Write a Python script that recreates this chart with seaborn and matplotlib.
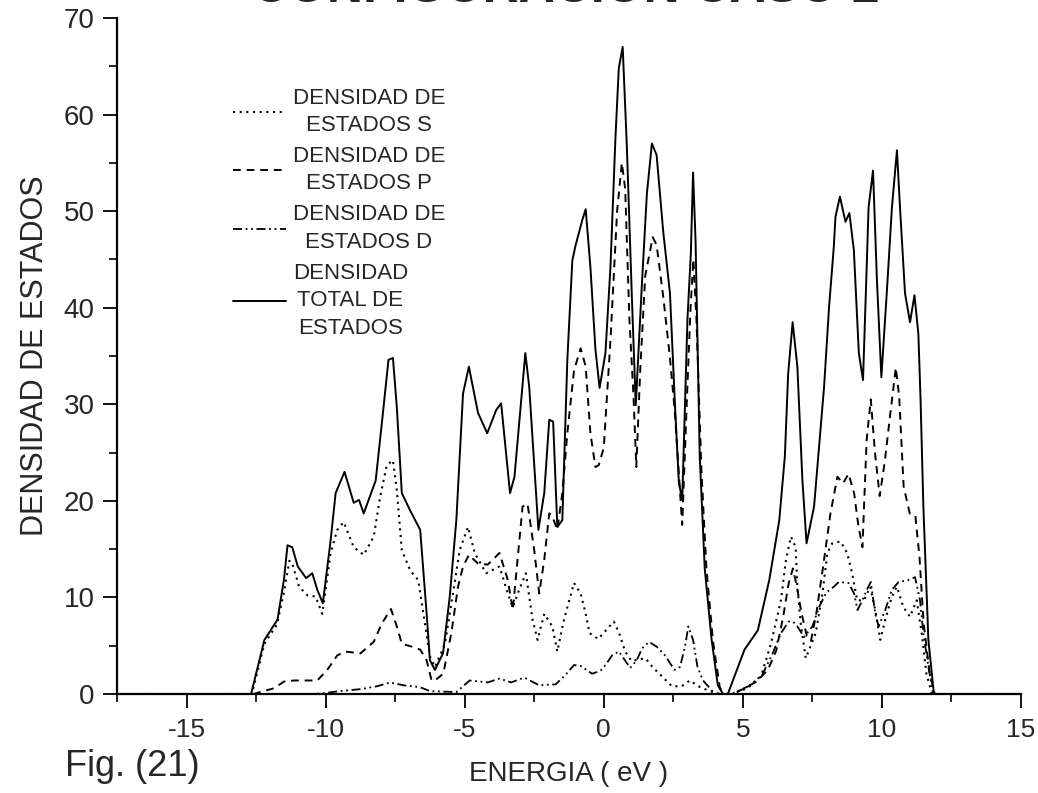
import matplotlib
matplotlib.use("Agg")
import matplotlib.pyplot as plt
import seaborn as sns
import pandas as pd
from matplotlib.ticker import MultipleLocator

# Energy grids (eV) and densities of states for each channel
energy_s = [-17.5, -12.65, -12.2, -11.75, -11.5, -11.3, -11.2, -10.95, -10.65, -10.36, -10.12,
            -9.82, -9.58, -9.35, -8.99, -8.63, -8.27, -8.04, -7.8, -7.58, -7.44, -7.26, -6.96,
            -6.67, -6.43, -6.25, -6.07, -5.71, -5.42, -5.18, -4.88, -4.64, -4.23, -3.75, -3.45,
            -3.27, -3.04, -2.8, -2.56, -2.38, -2.14, -1.85, -1.67, -1.43, -1.07, -0.83, -0.65,
            -0.51, -0.2, 0.08, 0.36, 0.54, 0.77, 1.0, 1.3, 1.5, 1.75, 2.1, 2.45, 2.8, 3.1, 3.4,
            3.8, 4.2, 4.6, 5.0, 5.3, 5.65, 6.01, 6.37, 6.55, 6.73, 6.9, 6.96, 7.08, 7.26, 7.62,
            7.86, 8.04, 8.21, 8.51, 8.75, 8.93, 9.11, 9.35, 9.58, 9.76, 9.94, 10.12, 10.36,
            10.54, 10.77, 11.01, 11.25, 11.43, 11.6, 11.8, 15.0]
dos_s = [0, 0, 5.2, 7.2, 10.5, 13.8, 13.5, 11.1, 10.2, 10.1, 8.3,
         14.6, 17.0, 17.8, 15.2, 14.4, 16.3, 20.4, 23.7, 24.2, 21.1, 14.9, 12.8,
         11.8, 7.3, 3.9, 2.8, 5.2, 10.4, 14.9, 17.3, 14.6, 12.5, 13.2, 10.4,
         9.0, 10.8, 12.5, 7.7, 5.6, 8.3, 7.0, 4.4, 7.7, 11.5, 10.4, 8.3,
         6.3, 5.7, 6.6, 7.5, 6.4, 4.4, 3.4, 3.6, 3.7, 2.8, 1.8, 0.8, 0.8, 1.4, 0.8,
         0.3, 0, 0, 0.4, 0.9, 1.8, 5.2, 9.7, 13.9, 16.3, 15.2, 11.1, 7.3, 3.7, 6.3,
         10.4, 14.6, 15.6, 15.8, 14.6, 12.5, 9.7, 9.7, 11.1, 8.7, 5.6, 7.7, 10.1,
         11.1, 9.0, 8.0, 9.7, 6.3, 2.1, 0, 0]

energy_p = [-17.5, -12.6, -11.85, -11.49, -11.13, -10.3, -9.94, -9.58, -9.29, -8.75, -8.27,
            -7.98, -7.65, -7.44, -7.26, -6.9, -6.6, -6.37, -6.19, -6.07, -5.77, -5.48, -5.24,
            -5.06, -4.85, -4.52, -4.17, -3.75, -3.45, -3.27, -3.1, -2.92, -2.74, -2.5, -2.32,
            -2.14, -1.96, -1.85, -1.67, -1.49, -1.31, -1.07, -0.83, -0.65, -0.48, -0.3, -0.18,
            0.0, 0.24, 0.48, 0.65, 0.77, 0.92, 1.07, 1.17, 1.31, 1.49, 1.76, 1.9, 2.14, 2.38,
            2.56, 2.74, 2.82, 2.98, 3.12, 3.22, 3.33, 3.51, 3.69, 3.93, 4.17, 4.3, 4.6, 5.0,
            5.5, 5.9, 6.2, 6.45, 6.65, 6.8, 6.95, 7.1, 7.3, 7.45, 7.65, 7.9, 8.15, 8.4, 8.6,
            8.8, 9.0, 9.15, 9.3, 9.45, 9.6, 9.75, 9.92, 10.1, 10.3, 10.5, 10.62, 10.78, 11.0,
            11.2, 11.35, 11.5, 11.72, 11.9, 15.0]
dos_p = [0, 0, 0.6, 1.3, 1.4, 1.4, 2.5, 4.0, 4.4, 4.2, 5.4,
         7.3, 8.8, 7.0, 5.2, 4.9, 4.6, 3.5, 1.4, 1.4, 2.1, 6.3, 11.1,
         13.2, 14.4, 13.5, 13.4, 14.6, 11.8, 8.7, 13.9, 19.4, 19.7, 14.9, 10.4,
         13.9, 18.7, 18.4, 17.0, 20.8, 27.0, 33.5, 35.8, 33.9, 27.0, 23.5, 23.7,
         25.5, 36.6, 50.0, 55.0, 52.3, 38.9, 30.8, 23.5, 33.5, 43.3, 47.3, 46.5, 41.1, 34.8,
         29.0, 21.0, 17.5, 29.9, 40.0, 45.0, 38.9, 23.2, 13.0, 5.4, 0.7, 0, 0, 0.5,
         1.3, 2.5, 4.5, 8.0, 11.5, 13.0, 11.0, 8.5, 6.0, 5.5, 8.5, 13.5, 18.7, 22.5, 21.8,
         22.8, 20.8, 17.5, 15.2, 26.3, 30.5, 25.0, 20.5, 24.0, 29.0, 33.8, 30.8, 21.5, 18.7,
         18.5, 14.2, 7.3, 2.1, 0, 0]

energy_d = [-17.5, -10.5, -10.0, -9.5, -8.75, -8.15, -7.68, -7.2, -6.6, -6.25, -5.3, -4.82,
            -4.17, -3.75, -3.33, -2.86, -2.32, -1.73, -1.37, -1.07, -0.83, -0.42, -0.12, 0.06,
            0.3, 0.54, 0.71, 0.95, 1.19, 1.37, 1.63, 1.9, 2.2, 2.54, 2.74, 2.92, 3.04, 3.21,
            3.37, 3.57, 3.81, 4.0, 4.6, 5.2, 5.7, 6.07, 6.37, 6.65, 6.8, 6.96, 7.2, 7.5, 7.74,
            8.0, 8.27, 8.45, 8.8, 9.0, 9.12, 9.3, 9.46, 9.6, 9.76, 9.88, 10.12, 10.36, 10.6,
            10.95, 11.19, 11.37, 11.49, 11.67, 11.85, 15.0]
dos_d = [0, 0, 0.1, 0.3, 0.5, 0.8, 1.2, 0.9, 0.7, 0.3, 0.2, 1.4,
         1.2, 1.6, 1.2, 1.7, 0.9, 1.0, 2.0, 3.0, 2.9, 2.1, 2.4, 3.0,
         4.0, 4.4, 3.7, 2.7, 3.5, 4.7, 5.4, 4.9, 4.0, 2.5, 2.8, 4.9, 7.0, 5.6,
         2.8, 1.4, 0.6, 0, 0, 0.8, 2.0, 4.2, 6.3, 7.5, 7.5, 7.0, 5.9, 7.0, 9.0,
         10.5, 11.1, 11.6, 11.5, 10.4, 8.7, 9.7, 10.8, 11.6, 8.3, 7.0, 8.7, 10.8, 11.6,
         11.8, 12.1, 9.7, 6.3, 2.8, 0, 0]

energy_tot = [-17.5, -12.68, -12.2, -11.73, -11.5, -11.37, -11.2, -11.0, -10.7, -10.48, -10.3,
              -10.1, -9.82, -9.64, -9.32, -8.99, -8.8, -8.63, -8.2, -7.98, -7.74, -7.58, -7.44,
              -7.26, -6.96, -6.6, -6.37, -6.25, -6.07, -5.78, -5.54, -5.3, -5.06, -4.85, -4.52,
              -4.19, -3.87, -3.69, -3.37, -3.21, -2.82, -2.68, -2.35, -2.14, -1.96, -1.82,
              -1.67, -1.49, -1.31, -1.13, -1.01, -0.77, -0.65, -0.48, -0.3, -0.15, 0.06, 0.24,
              0.42, 0.54, 0.68, 0.83, 1.01, 1.15, 1.37, 1.55, 1.73, 1.9, 2.14, 2.38, 2.56, 2.7,
              2.82, 3.01, 3.13, 3.21, 3.3, 3.45, 3.63, 3.87, 4.1, 4.29, 4.46, 5.06, 5.54, 5.95,
              6.31, 6.51, 6.63, 6.79, 6.96, 7.14, 7.29, 7.56, 7.92, 8.1, 8.27, 8.33, 8.49,
              8.69, 8.83, 8.99, 9.17, 9.32, 9.46, 9.52, 9.68, 9.82, 9.98, 10.18, 10.36, 10.54,
              10.65, 10.83, 11.01, 11.17, 11.31, 11.39, 11.49, 11.67, 11.87, 15.0]
dos_tot = [0, 0, 5.6, 7.7, 11.8, 15.4, 15.2, 13.2, 12.0, 12.5, 10.8,
           9.4, 15.9, 20.8, 23.0, 19.8, 20.1, 18.7, 22.1, 28.0, 34.6, 34.8, 29.7,
           20.8, 19.0, 17.0, 8.4, 3.5, 2.5, 4.2, 10.0, 18.0, 31.1, 33.9, 29.1,
           27.0, 29.4, 30.1, 20.8, 22.5, 35.3, 31.8, 17.0, 20.8, 28.4, 28.2,
           17.3, 18.0, 34.6, 44.9, 46.5, 49.1, 50.2, 44.2, 35.7, 31.7, 35.3, 44.2,
           57.6, 64.8, 67.0, 56.7, 41.1, 29.9, 42.4, 51.8, 57.0, 55.8, 47.8, 41.5, 29.9, 21.9,
           20.1, 38.9, 45.6, 54.0, 46.9, 24.6, 13.0, 5.8, 0.9, 0, 0, 4.6, 6.6, 11.8,
           18.0, 24.6, 33.2, 38.5, 33.9, 22.2, 15.6, 19.4, 31.8, 40.1, 46.3, 49.4, 51.5,
           48.9, 49.8, 46.0, 35.3, 32.5, 44.9, 50.4, 54.2, 42.9, 32.8, 41.8, 50.4, 56.3,
           50.4, 41.5, 38.5, 41.3, 37.3, 30.4, 19.4, 5.6, 0, 0]

labels = ["DENSIDAD DE\nESTADOS S", "DENSIDAD DE\nESTADOS P",
          "DENSIDAD DE\nESTADOS D", "DENSIDAD\nTOTAL DE\nESTADOS"]

sns.set_theme(style="ticks")
plt.rcParams["font.family"] = ["Liberation Sans", "DejaVu Sans"]
plt.rcParams["axes.unicode_minus"] = False

fig = plt.figure(figsize=(10.38, 7.93), dpi=100)
ax = fig.add_axes([117 / 1038, 1 - 694 / 793, (1021 - 117) / 1038, (694 - 18) / 793])

series = [
    (energy_s, dos_s, (0, (1, 2.2)), 1.5),
    (energy_p, dos_p, (0, (4, 3)), 1.4),
    (energy_d, dos_d, (0, (5, 2, 1, 2, 1, 2)), 1.3),
    (energy_tot, dos_tot, "-", 1.4),
]
for (e, d, ls, lw), lab in zip(series, labels):
    df = pd.DataFrame({"E": e, "DOS": d})
    sns.lineplot(data=df, x="E", y="DOS", ax=ax, color="black", linestyle=ls,
                 linewidth=lw, estimator=None, sort=False, label=lab)

ax.set_xlim(-17.5, 15)
ax.set_ylim(0, 70)
ax.xaxis.set_major_locator(MultipleLocator(5))
ax.xaxis.set_minor_locator(MultipleLocator(2.5))
ax.yaxis.set_major_locator(MultipleLocator(10))
ax.yaxis.set_minor_locator(MultipleLocator(5))
ax.tick_params(axis="both", which="major", direction="out", length=10, width=1.3,
               color="black", pad=7)
ax.tick_params(axis="both", which="minor", direction="out", length=6, width=1.2,
               color="black")
ax.tick_params(axis="x", labelsize=19)
ax.tick_params(axis="y", labelsize=20, pad=6)
for sp in ["top", "right"]:
    ax.spines[sp].set_visible(False)
for sp in ["left", "bottom"]:
    ax.spines[sp].set_linewidth(1.6)
    ax.spines[sp].set_color("black")
ax.set_facecolor("white")

ax.set_xlabel("ENERGIA ( eV )", fontsize=20, labelpad=14)
ax.set_ylabel("DENSIDAD DE ESTADOS", fontsize=22, labelpad=10)

leg = ax.legend(loc="upper left", bbox_to_anchor=(0.128, 0.897), frameon=False,
                fontsize=16, handlelength=2.4, handletextpad=0.3, labelspacing=0.45,
                borderpad=0, borderaxespad=0)
for t in leg.get_texts():
    t.set_multialignment("center")
    t.set_linespacing(1.4)

fig.text(0.545, 0.997, "CONFIGURACION CASO 2", fontsize=36, fontweight="bold",
         ha="center", va="baseline")
fig.text(0.063, 0.022, "Fig. (21)", fontsize=26, ha="left", va="baseline")

fig.savefig("out.png", dpi=100, facecolor="white")
